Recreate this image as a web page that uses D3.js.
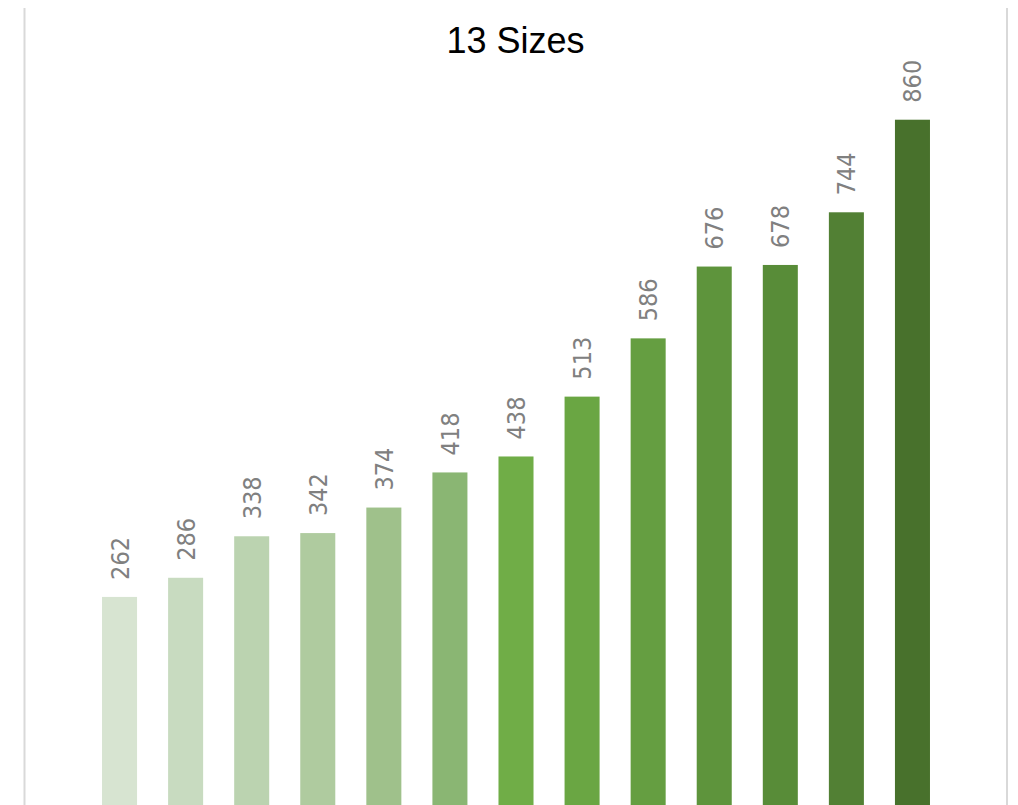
<!DOCTYPE html>
<html>
<head>
<meta charset="utf-8">
<script src="https://cdn.jsdelivr.net/npm/d3@7"></script>
<style>
  html, body { margin: 0; padding: 0; background: #fff; }
  svg { display: block; }
</style>
</head>
<body>
<svg id="chart" width="1018" height="805"></svg>
<script>
const categories = ["S1","S2","S3","S4","S5","S6","S7","S8","S9","S10","S11","S12","S13"];
const values = [262, 286, 338, 342, 374, 418, 438, 513, 586, 676, 678, 744, 860];
const colors = ["#d7e4d1","#c8dbc0","#bbd3b0","#afcb9f","#9fc18b","#8ab673","#70ad47","#6aa643","#659e41","#5e943c","#588c38","#528034","#48712c"];
const title = "13 Sizes";

const svg = d3.select("#chart");
const W = 1018, H = 805;
const plotTop = 8, plotBottom = 806;

const x = d3.scaleBand()
  .domain(categories)
  .range([86.5, 945.5])
  .paddingInner(0.47)
  .paddingOuter(0.235);

const y = d3.scaleLinear()
  .domain([0, 1000])
  .range([plotBottom, plotTop]);

// side borders
svg.append("line").attr("x1", 24.5).attr("x2", 24.5).attr("y1", plotTop).attr("y2", H)
  .attr("stroke", "#d9d9d9").attr("stroke-width", 2);
svg.append("line").attr("x1", 1007).attr("x2", 1007).attr("y1", plotTop).attr("y2", H)
  .attr("stroke", "#d9d9d9").attr("stroke-width", 2);

// bars
svg.append("g").selectAll("rect")
  .data(values)
  .join("rect")
  .attr("x", (d, i) => x(categories[i]))
  .attr("width", x.bandwidth())
  .attr("y", d => y(d))
  .attr("height", d => y(0) - y(d))
  .attr("fill", (d, i) => colors[i]);

// labels
svg.append("g").selectAll("text")
  .data(values)
  .join("text")
  .attr("transform", (d, i) => `translate(${x(categories[i]) + x.bandwidth() / 2},${y(d) - 17}) rotate(-90)`)
  .attr("dy", "0.36em")
  .attr("text-anchor", "start")
  .attr("font-family", "'Liberation Sans Narrow', 'DejaVu Sans Condensed', 'Liberation Sans', sans-serif")
  .attr("font-size", 25)
  .attr("fill", "#808080")
  .text(d => d);

// title
svg.append("text")
  .attr("x", 515.5)
  .attr("y", 52.5)
  .attr("text-anchor", "middle")
  .attr("font-family", "'Liberation Sans', Arial, sans-serif")
  .attr("font-size", 36)
  .attr("fill", "#000")
  .text(title);
</script>
</body>
</html>
